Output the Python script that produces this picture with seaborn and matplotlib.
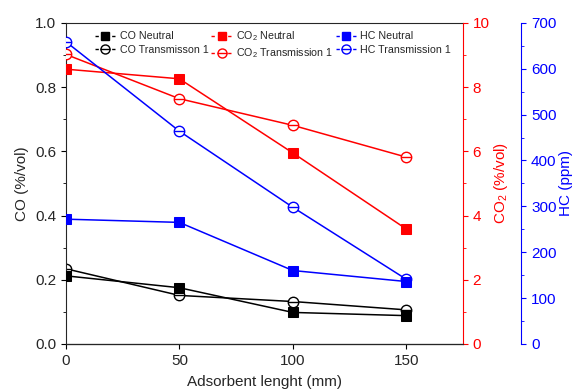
import numpy as np
import matplotlib
matplotlib.use("Agg")
import matplotlib.pyplot as plt
from matplotlib.ticker import MultipleLocator, FormatStrFormatter
from matplotlib.lines import Line2D
import seaborn as sns

# data
length = [0, 50, 100, 150]
co_neutral = [0.212, 0.175, 0.098, 0.088]
co_trans = [0.234, 0.151, 0.132, 0.106]
co2_neutral = [8.56, 8.26, 5.95, 3.58]
co2_trans = [9.02, 7.64, 6.81, 5.82]
hc_neutral = [272, 265, 160, 136]
hc_trans = [659, 464, 298, 141]

sns.set_style("ticks")
plt.rcParams['font.family'] = ['Liberation Sans', 'DejaVu Sans']
plt.rcParams['font.size'] = 11
plt.rcParams['mathtext.fontset'] = 'custom'
plt.rcParams['mathtext.rm'] = 'Liberation Sans'
plt.rcParams['mathtext.it'] = 'Liberation Sans:italic'

RED = '#ff0000'
BLUE = '#0000ff'

fig = plt.figure(figsize=(5.78, 3.89), dpi=100)
ax = fig.add_axes([0.114, 0.116, 0.687, 0.825])
ax2 = ax.twinx()
ax3 = ax.twinx()
ax3.spines['right'].set_position(('outward', 42))

SQ = 6.5
CI = 7.5


def draw(a, y, col, kind):
    if kind == 'sq':
        sns.lineplot(x=length, y=y, ax=a, color=col, marker='s', markersize=SQ,
                     markeredgecolor=col, linewidth=1.1, zorder=3)
    else:
        sns.lineplot(x=length, y=y, ax=a, color=col, marker='o', markersize=CI,
                     markerfacecolor='white', markeredgecolor=col,
                     markeredgewidth=1, linewidth=1.1, zorder=2)
        # horizontal bar through the circle
        sns.lineplot(x=length, y=y, ax=a, color=col, marker='_', markersize=CI,
                     markeredgecolor=col, markeredgewidth=1, linestyle='',
                     zorder=2)


draw(ax, co_trans, 'black', 'ci')
draw(ax, co_neutral, 'black', 'sq')
draw(ax2, co2_trans, RED, 'ci')
draw(ax2, co2_neutral, RED, 'sq')
draw(ax3, hc_trans, BLUE, 'ci')
draw(ax3, hc_neutral, BLUE, 'sq')

ax.set_xlim(0, 175)
ax.set_ylim(0, 1.0)
ax2.set_ylim(0, 10)
ax3.set_ylim(0, 700)
ax.xaxis.set_major_locator(MultipleLocator(50))
ax.yaxis.set_major_locator(MultipleLocator(0.2))
ax.yaxis.set_minor_locator(MultipleLocator(0.1))
ax.yaxis.set_major_formatter(FormatStrFormatter('%.1f'))
ax2.yaxis.set_major_locator(MultipleLocator(2))
ax2.yaxis.set_minor_locator(MultipleLocator(1))
ax3.yaxis.set_major_locator(MultipleLocator(100))
ax3.yaxis.set_minor_locator(MultipleLocator(50))

ax.set_xlabel('Adsorbent lenght (mm)', labelpad=5)
ax.set_ylabel('CO (%/vol)', labelpad=4)
ax2.set_ylabel('CO$_2$ (%/vol)', color=RED, labelpad=2)
ax3.set_ylabel('HC (ppm)', color=BLUE, labelpad=2)

ax.spines['top'].set_visible(True)
ax.spines['right'].set_visible(False)
ax2.spines['right'].set_color(RED)
ax2.spines['left'].set_visible(False)
ax3.spines['right'].set_color(BLUE)
ax3.spines['left'].set_visible(False)
ax2.spines['top'].set_visible(False)
ax3.spines['top'].set_visible(False)
ax.tick_params(which='both', direction='out', color='black')
ax2.tick_params(axis='y', which='both', colors=RED)
ax3.tick_params(axis='y', which='both', colors=BLUE)

# legend handles look like "-■-": short dash, marker, short dash
DASH = (0, (2.4, 9.6))


def handle(col, kind):
    if kind == 'sq':
        return Line2D([], [], color=col, marker='s', markersize=5.8,
                      linestyle=DASH, linewidth=1.0)
    ring = Line2D([], [], color=col, marker='o', markersize=6.5,
                  markerfacecolor='white', markeredgecolor=col,
                  linestyle=DASH, linewidth=1.0)
    bar = Line2D([], [], color=col, marker='_', markersize=6.5,
                 markeredgewidth=1.0, linestyle='')
    return (ring, bar)


handles = [handle('black', 'sq'), handle('black', 'ci'),
           handle(RED, 'sq'), handle(RED, 'ci'),
           handle(BLUE, 'sq'), handle(BLUE, 'ci')]
labels = ['CO Neutral', 'CO Transmisson 1',
          'CO$_2$ Neutral', 'CO$_2$ Transmission 1',
          'HC Neutral', 'HC Transmission 1']
ax3.legend(handles, labels, ncol=3, frameon=False, fontsize=7.7, loc='upper left',
           bbox_to_anchor=(0.058, 1.0), columnspacing=0.25, handlelength=1.9,
           handletextpad=0.4, labelspacing=0.3, borderaxespad=0.2)

fig.savefig('out.png', dpi=100)
